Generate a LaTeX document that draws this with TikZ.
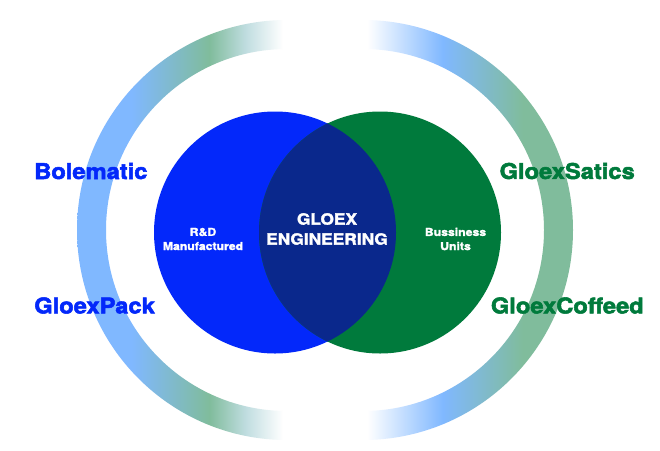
\documentclass[tikz,border=0pt]{standalone}
\usepackage{fontspec}
\newfontfamily\hv[FakeBold=2.4,FakeStretch=1.09]{TeX Gyre Heros Bold}
\newfontfamily\hvs[FakeBold=2.0,FakeStretch=1.12]{TeX Gyre Heros Bold}
\definecolor{cblue}{RGB}{3,40,250}
\definecolor{cgreen}{RGB}{0,122,60}
\definecolor{clens}{RGB}{10,40,140}
\definecolor{rblue}{RGB}{128,184,255}
\definecolor{rgreen}{RGB}{128,188,156}
\definecolor{rfade}{RGB}{192,221,224}
% shading spans x=77..287 (left) mapped to 25bp..75bp
\pgfdeclarehorizontalshading{leftring}{100bp}{
  color(0bp)=(rblue);
  color(25bp)=(rblue);
  color(38bp)=(rblue);
  color(56.5bp)=(rgreen);
  color(65.2bp)=(rfade);
  color(74bp)=(white);
  color(75bp)=(white);
  color(100bp)=(white)}
% spans x=363..573
\pgfdeclarehorizontalshading{rightring}{100bp}{
  color(0bp)=(white);
  color(25bp)=(white);
  color(26bp)=(white);
  color(44bp)=(rblue);
  color(63bp)=(rgreen);
  color(75bp)=(rgreen);
  color(100bp)=(rgreen)}
\tikzset{
  big/.style={font=\hv\fontsize{16.3pt}{18pt}\selectfont,inner sep=0pt},
  mid/.style={font=\hvs\fontsize{11.6pt}{15pt}\selectfont,text=white,align=center,inner sep=0pt},
  small/.style={font=\hvs\fontsize{8.2pt}{10.6pt}\selectfont,text=white,align=center,inner sep=0pt},
}
\begin{document}
\begin{tikzpicture}[x=0.75pt,y=-0.75pt]
\useasboundingbox (0,0) rectangle (660,450);
\fill[white] (0,0) rectangle (660,450);
% left arc
\begin{scope}[even odd rule]
  \clip (284,0) rectangle (0,450);
  \clip (287,230) circle [radius=157.5pt] (287,230) circle [radius=135.75pt];
  \shade[shading=leftring] (77,15) rectangle (287,445);
\end{scope}
% right arc
\begin{scope}[even odd rule]
  \clip (368,0) rectangle (660,450);
  \clip (363,230) circle [radius=157.5pt] (363,230) circle [radius=135.75pt];
  \shade[shading=rightring] (363,15) rectangle (573,445);
\end{scope}
% circles
\fill[cblue] (275,232.5) circle [radius=90.75pt];
\fill[cgreen] (380,232.5) circle [radius=90.75pt];
\begin{scope}
  \clip (275,232.5) circle [radius=90.75pt];
  \fill[clens] (380,232.5) circle [radius=90.75pt];
\end{scope}
% labels
\node[big,text=cblue,anchor=west] (bole) at (34,171) {Bolematic};
\node[big,text=cblue,anchor=west] (pack) at (34,305.5) {GloexPack};
\node[big,text=cgreen,anchor=east] (sat) at (635,171) {GloexSatics};
\node[big,text=cgreen,anchor=east] (cof) at (644,305.5) {GloexCoffeed};
\node[mid] (core) at (327,229) {GLOEX\\ENGINEERING};
\node[small] (rd) at (203,239) {R\&D\\Manufactured};
\node[small] (bu) at (455.5,239) {Bussiness\\Units};
\end{tikzpicture}
\end{document}
